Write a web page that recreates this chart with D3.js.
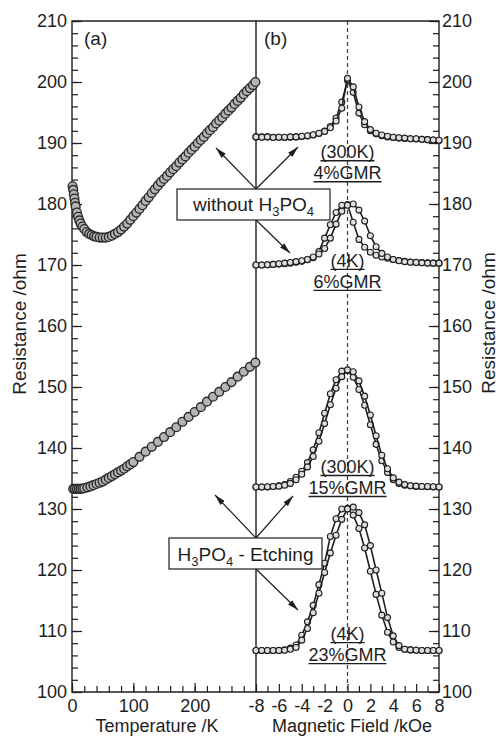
<!DOCTYPE html>
<html>
<head>
<meta charset="utf-8">
<script src="https://cdn.jsdelivr.net/npm/d3@7"></script>
<style>
  body { margin: 0; background: #fff; }
  svg { display: block; font-family: "Liberation Sans", Arial, Helvetica, sans-serif; }
</style>
</head>
<body>
<div id="chart"></div>
<script>
// (a) resistance vs temperature
const tempNoAcid = [1, 2, 3, 4, 5, 6, 8, 10, 12, 14, 17, 20, 24, 28, 32, 36, 40, 45, 50, 55, 60, 65, 70, 75, 80, 85, 90, 95, 100,
  105, 110, 115, 120, 125, 130, 135, 140, 145, 150, 155, 160, 165, 170, 175, 180, 185, 190, 195, 200,
  205, 210, 215, 220, 225, 230, 235, 240, 245, 250, 255, 260, 265, 270, 275, 280, 285, 290, 295, 299];
const resNoAcid = [182.9, 182.3, 181.6, 180.9, 180.2, 179.6, 178.6, 177.9, 177.3, 176.8, 176.3, 175.9, 175.4, 175.1, 174.9, 174.7, 174.6, 174.5, 174.5, 174.5, 174.6, 174.8, 175.1, 175.4, 175.8, 176.3, 176.8, 177.4, 178.0,
  178.6, 179.2, 179.8, 180.5, 181.1, 181.8, 182.4, 183.0, 183.6, 184.1, 184.6, 185.2, 185.7, 186.2, 186.8, 187.3, 187.8, 188.4, 188.9, 189.4,
  190.0, 190.5, 191.0, 191.6, 192.1, 192.6, 193.2, 193.7, 194.2, 194.8, 195.3, 195.8, 196.4, 196.9, 197.4, 198.0, 198.5, 199.0, 199.5, 200.0];

const tempEtched = [2, 5, 8, 11, 14, 17, 20, 25, 30, 35, 40, 45, 50, 55, 60, 65, 70, 75, 80, 85, 90, 95, 100,
  110, 120, 130, 140, 150, 160, 170, 180, 190, 200, 210, 220, 230, 240, 250, 260, 270, 280, 290, 299];
const resEtched = [133.3, 133.3, 133.3, 133.3, 133.3, 133.35, 133.4, 133.55, 133.7, 133.9, 134.1, 134.3, 134.5, 134.8, 135.1, 135.4, 135.7, 136.0, 136.3, 136.6, 137.0, 137.3, 137.7,
  138.55, 139.4, 140.2, 141.0, 141.8, 142.6, 143.4, 144.3, 145.1, 145.9, 146.7, 147.6, 148.4, 149.2, 150.0, 150.8, 151.7, 152.5, 153.3, 154.0];

// (b) resistance vs field (kOe), two sweeps per sample
const field = [-8, -7.5, -7, -6.5, -6, -5.5, -5, -4.5, -4, -3.5, -3, -2.5, -2, -1.5, -1, -0.5, 0,
  0.5, 1, 1.5, 2, 2.5, 3, 3.5, 4, 4.5, 5, 5.5, 6, 6.5, 7, 7.5, 8];

const mr300kNoAcidA = [191.0, 191.0, 191.0, 190.95, 190.95, 190.9, 190.95, 191.0, 191.05, 191.15, 191.3, 191.55, 191.95, 192.7, 194.1, 196.7, 200.3,
  198.3, 194.9, 193.0, 192.0, 191.5, 191.2, 191.0, 190.9, 190.8, 190.75, 190.7, 190.65, 190.6, 190.55, 190.5, 190.4];
const mr300kNoAcidB = [191.0, 190.95, 191.0, 190.9, 190.95, 190.95, 191.0, 191.0, 191.1, 191.2, 191.35, 191.6, 191.9, 192.5, 193.6, 195.7, 200.6,
  199.2, 195.9, 193.5, 192.2, 191.6, 191.3, 191.1, 190.95, 190.85, 190.8, 190.7, 190.7, 190.6, 190.55, 190.5, 190.45];

const mr4kNoAcidA = [170.0, 170.0, 170.05, 170.1, 170.15, 170.2, 170.3, 170.45, 170.6, 170.85, 171.2, 172.2, 174.4, 176.6, 178.6, 179.8, 179.9,
  177.0, 174.2, 172.9, 172.1, 171.6, 171.3, 171.1, 170.9, 170.75, 170.6, 170.5, 170.45, 170.4, 170.35, 170.3, 170.3];
const mr4kNoAcidB = [170.0, 170.0, 170.05, 170.1, 170.2, 170.3, 170.4, 170.55, 170.7, 170.9, 171.3, 171.8, 172.7, 174.4, 176.7, 178.8, 179.8,
  180.0, 179.0, 177.2, 174.8, 173.0, 171.9, 171.3, 170.9, 170.7, 170.55, 170.45, 170.4, 170.35, 170.3, 170.3, 170.3];

const mr300kEtchedA = [133.6, 133.6, 133.6, 133.7, 133.8, 134.0, 134.5, 135.2, 136.2, 137.6, 139.7, 142.5, 145.7, 148.9, 151.2, 152.6, 152.7,
  151.6, 149.6, 147.0, 143.8, 140.6, 137.9, 136.0, 134.8, 134.2, 133.9, 133.8, 133.7, 133.7, 133.65, 133.6, 133.6];
const mr300kEtchedB = [133.6, 133.6, 133.65, 133.7, 133.75, 133.9, 134.2, 134.8, 135.7, 136.9, 138.6, 141.1, 144.0, 147.1, 149.8, 151.7, 152.8,
  152.5, 151.0, 148.5, 145.4, 142.0, 138.8, 136.6, 135.1, 134.4, 134.0, 133.8, 133.75, 133.7, 133.7, 133.65, 133.6];

const mr4kEtchedA = [106.8, 106.8, 106.8, 106.8, 106.85, 106.9, 107.2, 107.7, 109.3, 111.5, 114.2, 117.6, 121.1, 125.5, 128.4, 130.0, 130.1,
  129.0, 126.8, 123.6, 119.8, 116.0, 112.6, 109.8, 108.2, 107.3, 107.0, 106.9, 106.85, 106.8, 106.8, 106.8, 106.8];
const mr4kEtchedB = [106.8, 106.8, 106.8, 106.8, 106.8, 106.85, 107.0, 107.3, 108.5, 110.4, 113.0, 116.2, 119.6, 122.8, 125.7, 128.3, 130.0,
  130.3, 129.4, 127.4, 124.0, 120.0, 116.2, 112.2, 109.2, 107.6, 107.0, 106.9, 106.85, 106.8, 106.8, 106.8, 106.8];

// tick labels
const resTicks = [100, 110, 120, 130, 140, 150, 160, 170, 180, 190, 200, 210];
const tempTicks = [0, 100, 200];
const fieldTicks = [-8, -6, -4, -2, 0, 2, 4, 6, 8];

// gmr labels: [line1, line2, R at first line's baseline]
const gmrLabels = [
  ['(300K)', '4%GMR', 187.5],
  ['(4K)', '6%GMR', 169.7],
  ['(300K)', '15%GMR', 135.9],
  ['(4K)', '23%GMR', 108.5]
];

const W = 499, H = 736;
const pL = 72, pM = 256, pR = 439, pT = 21, pB = 692;
const ink = '#1e1e1e';

const svg = d3.select('#chart').append('svg')
  .attr('width', W)
  .attr('height', H);

svg.append('defs').append('marker')
  .attr('id', 'arr')
  .attr('viewBox', '0 0 11 6')
  .attr('refX', 11).attr('refY', 3)
  .attr('markerWidth', 11).attr('markerHeight', 6)
  .attr('markerUnits', 'userSpaceOnUse')
  .attr('orient', 'auto')
  .append('path')
  .attr('d', 'M0,0L11,3L0,6Z')
  .attr('fill', ink);

const y = d3.scaleLinear().domain([100, 210]).range([pB, pT]);
const xT = d3.scaleLinear().domain([0, 300]).range([pL, pM]);
const xH = d3.scaleLinear().domain([-8, 8]).range([pM, pR]);

// minor tick helper
function minor(lo, hi, step) {
  let out = [];
  for (let v = lo; v <= hi + 1e-9; v += step) out.push(+v.toFixed(3));
  return out;
}

function styleAxis(g) {
  g.select('.domain').remove();
  g.selectAll('line').attr('stroke', ink).attr('stroke-width', 1.2);
  g.selectAll('text')
    .attr('fill', ink)
    .attr('font-size', 18)
    .attr('font-family', '"Liberation Sans", Arial, sans-serif');
}

// left y axis
svg.append('g').attr('transform', `translate(${pL},0)`)
  .call(d3.axisLeft(y).tickValues(minor(100, 210, 2)).tickSize(-6).tickFormat(''))
  .call(styleAxis);
svg.append('g').attr('transform', `translate(${pL},0)`)
  .call(d3.axisLeft(y).tickValues(resTicks).tickSize(-10).tickPadding(5).tickFormat(d3.format('d')))
  .call(styleAxis);

// right y axis
svg.append('g').attr('transform', `translate(${pR},0)`)
  .call(d3.axisRight(y).tickValues(minor(100, 210, 2)).tickSize(-6).tickFormat(''))
  .call(styleAxis);
svg.append('g').attr('transform', `translate(${pR},0)`)
  .call(d3.axisRight(y).tickValues(resTicks).tickSize(-10).tickPadding(3).tickFormat(d3.format('d')))
  .call(styleAxis);

// bottom axes
svg.append('g').attr('transform', `translate(0,${pB})`)
  .call(d3.axisBottom(xT).tickValues(minor(0, 280, 20)).tickSize(-6).tickFormat(''))
  .call(styleAxis);
svg.append('g').attr('transform', `translate(0,${pB})`)
  .call(d3.axisBottom(xT).tickValues(tempTicks).tickSize(-9).tickPadding(7).tickFormat(d3.format('d')))
  .call(styleAxis);
svg.append('g').attr('transform', `translate(0,${pB})`)
  .call(d3.axisBottom(xH).tickValues(minor(-7, 7, 2)).tickSize(-6).tickFormat(''))
  .call(styleAxis);
svg.append('g').attr('transform', `translate(0,${pB})`)
  .call(d3.axisBottom(xH).tickValues(fieldTicks).tickSize(-8).tickPadding(7).tickFormat(d => String(d)))
  .call(styleAxis);

// dashed zero-field line
svg.append('line')
  .attr('x1', xH(0)).attr('x2', xH(0))
  .attr('y1', pT).attr('y2', pB)
  .attr('stroke', '#444')
  .attr('stroke-width', 1.3)
  .attr('stroke-dasharray', '4,3');

// frame
svg.append('path')
  .attr('d', `M${pL},${pT}H${pR}V${pB}H${pL}Z M${pM},${pT}V${pB}`)
  .attr('fill', 'none')
  .attr('stroke', ink)
  .attr('stroke-width', 1.4);

// (a) data
function drawRT(ts, rs) {
  svg.append('g').selectAll('circle')
    .data(ts)
    .enter().append('circle')
    .attr('cx', d => xT(d))
    .attr('cy', (d, i) => y(rs[i]))
    .attr('r', 4.4)
    .attr('fill', '#b4b4b4')
    .attr('stroke', '#2a2a2a')
    .attr('stroke-width', 1.4);
}
drawRT(tempNoAcid, resNoAcid);
drawRT(tempEtched, resEtched);

// (b) data
const line = d3.line()
  .x((d, i) => xH(field[i]))
  .y(d => y(d));

[mr300kNoAcidA, mr300kNoAcidB, mr4kNoAcidA, mr4kNoAcidB,
  mr300kEtchedA, mr300kEtchedB, mr4kEtchedA, mr4kEtchedB].forEach(function (rs) {
  svg.append('path')
    .datum(rs)
    .attr('d', line)
    .attr('fill', 'none')
    .attr('stroke', ink)
    .attr('stroke-width', 1.6);
  svg.append('g').selectAll('circle')
    .data(rs)
    .enter().append('circle')
    .attr('cx', (d, i) => xH(field[i]))
    .attr('cy', d => y(d))
    .attr('r', 3)
    .attr('fill', '#dedede')
    .attr('stroke', ink)
    .attr('stroke-width', 1.1);
});

// gmr labels, underlined
gmrLabels.forEach(function (lab) {
  [lab[0], lab[1]].forEach(function (s, k) {
    const by = y(lab[2]) + k * 21;
    const t = svg.append('text')
      .attr('x', xH(0))
      .attr('y', by)
      .attr('text-anchor', 'middle')
      .attr('font-size', 18)
      .attr('fill', ink)
      .text(s);
    const w = t.node().getComputedTextLength();
    svg.append('line')
      .attr('x1', xH(0) - w / 2).attr('x2', xH(0) + w / 2)
      .attr('y1', by + 2.5).attr('y2', by + 2.5)
      .attr('stroke', ink)
      .attr('stroke-width', 1.3);
  });
});

// annotation boxes with arrows; parts: [text, isSubscript]
function formula(t, parts) {
  let shifted = false;
  parts.forEach(function (p) {
    const ts = t.append('tspan').text(p[0]);
    if (p[1]) {
      ts.attr('font-size', 13);
      if (!shifted) ts.attr('dy', 5);
      shifted = true;
    } else if (shifted) {
      ts.attr('dy', -5);
      shifted = false;
    }
  });
}

function arrow(x1, y1, x2, y2) {
  svg.append('line')
    .attr('x1', x1).attr('y1', y1)
    .attr('x2', x2).attr('y2', y2)
    .attr('stroke', ink)
    .attr('stroke-width', 1.2)
    .attr('marker-end', 'url(#arr)');
}

arrow(pM, 189, 216, 148);
arrow(pM, 189, 298, 147);
arrow(pM, 220, 290, 253);
svg.append('rect')
  .attr('x', 177).attr('y', 189).attr('width', 153).attr('height', 31)
  .attr('fill', '#fff').attr('stroke', ink).attr('stroke-width', 1.2);
formula(svg.append('text').attr('x', 253.5).attr('y', 211).attr('text-anchor', 'middle')
  .attr('font-size', 19).attr('fill', ink),
  [['without H'], ['3', 1], ['PO'], ['4', 1]]);

arrow(pM, 538, 215, 495);
arrow(pM, 538, 293, 496);
arrow(pM, 569, 298, 610);
svg.append('rect')
  .attr('x', 169).attr('y', 538).attr('width', 153).attr('height', 31)
  .attr('fill', '#fff').attr('stroke', ink).attr('stroke-width', 1.2);
formula(svg.append('text').attr('x', 245.5).attr('y', 561).attr('text-anchor', 'middle')
  .attr('font-size', 19).attr('fill', ink),
  [['H'], ['3', 1], ['PO'], ['4', 1], [' - Etching']]);

// panel tags and axis titles
svg.append('text').attr('x', 84).attr('y', 45).attr('font-size', 19).attr('fill', ink).text('(a)');
svg.append('text').attr('x', 264).attr('y', 45).attr('font-size', 19).attr('fill', ink).text('(b)');

svg.append('text')
  .attr('x', 157).attr('y', 732)
  .attr('text-anchor', 'middle')
  .attr('font-size', 18).attr('fill', ink)
  .text('Temperature /K');
svg.append('text')
  .attr('x', 352).attr('y', 732)
  .attr('text-anchor', 'middle')
  .attr('font-size', 18).attr('fill', ink)
  .text('Magnetic Field /kOe');

svg.append('text')
  .attr('transform', 'translate(26,324) rotate(-90)')
  .attr('text-anchor', 'middle')
  .attr('font-size', 19).attr('fill', ink)
  .text('Resistance /ohm');
svg.append('text')
  .attr('transform', 'translate(495,323) rotate(-90)')
  .attr('text-anchor', 'middle')
  .attr('font-size', 19).attr('fill', ink)
  .text('Resistance /ohm');
</script>
</body>
</html>
